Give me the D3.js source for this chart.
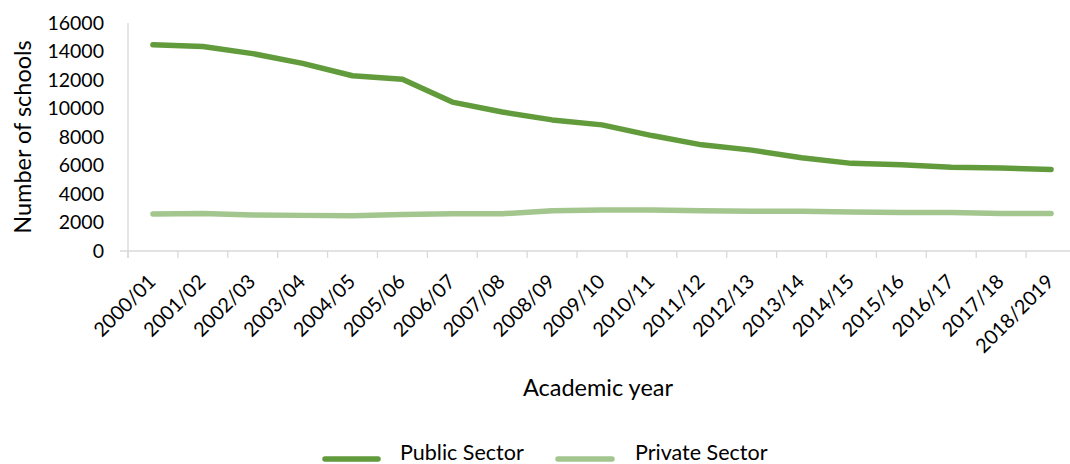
<!DOCTYPE html>
<html>
<head>
<meta charset="utf-8">
<script src="https://cdn.jsdelivr.net/npm/d3@7/dist/d3.min.js"></script>
<style>
  html, body { margin: 0; padding: 0; background: #fff; overflow: hidden; }
  svg { display: block; font-family: Lato, "Open Sans", sans-serif; }
</style>
</head>
<body>
<svg id="chart" width="1070" height="464"></svg>
<script>
// Academic years on the horizontal axis
const years = [
  "2000/01", "2001/02", "2002/03", "2003/04", "2004/05", "2005/06", "2006/07",
  "2007/08", "2008/09", "2009/10", "2010/11", "2011/12", "2012/13", "2013/14",
  "2014/15", "2015/16", "2016/17", "2017/18", "2018/2019"
];

// Number of schools per sector
const publicSector = [
  14480, 14350, 13850, 13170, 12300, 12060, 10450, 9750, 9200, 8850,
  8100, 7450, 7080, 6550, 6150, 6050, 5880, 5820, 5720
];
const privateSector = [
  2600, 2640, 2530, 2500, 2480, 2560, 2610, 2610, 2830, 2870,
  2870, 2830, 2790, 2790, 2740, 2700, 2700, 2640, 2640
];

const yTicks = [0, 2000, 4000, 6000, 8000, 10000, 12000, 14000, 16000];

const seriesNames = ["Public Sector", "Private Sector"];
const seriesColors = ["#629b3c", "#a3c68f"];

const svg = d3.select("#chart");

const plotLeft = 128, plotRight = 1076, plotTop = 23, plotBottom = 251;

const x = d3.scaleBand().domain(years).range([plotLeft, plotRight]).padding(0);
const y = d3.scaleLinear().domain([0, 16000]).range([plotBottom, plotTop]);

const axisColor = "#d9d9d9";

// y axis: labels only, with a plain line
svg.append("line")
  .attr("x1", plotLeft).attr("x2", plotLeft)
  .attr("y1", y(16000)).attr("y2", plotBottom + 7)
  .attr("stroke", axisColor).attr("stroke-width", 1.3);

const yAxis = d3.axisLeft(y).tickValues(yTicks).tickSize(0).tickPadding(24)
  .tickFormat(d3.format("d"));
const yg = svg.append("g").attr("transform", `translate(${plotLeft},0)`).call(yAxis);
yg.select(".domain").remove();
yg.selectAll("text")
  .attr("font-size", 19.5).attr("fill", "#000")
  .attr("font-family", "Lato, sans-serif");

// x axis: baseline plus tick marks at band edges
svg.append("line")
  .attr("x1", plotLeft - 8).attr("x2", plotRight)
  .attr("y1", plotBottom).attr("y2", plotBottom)
  .attr("stroke", axisColor).attr("stroke-width", 1.3);

const edges = years.map(d => x(d)).concat([x(years[years.length - 1]) + x.bandwidth()]);
svg.append("g").selectAll("line").data(edges).join("line")
  .attr("x1", d => d).attr("x2", d => d)
  .attr("y1", plotBottom).attr("y2", plotBottom + 7)
  .attr("stroke", axisColor).attr("stroke-width", 1.3);

// rotated category labels
svg.append("g").selectAll("text").data(years).join("text")
  .attr("transform", d => `translate(${x(d) + x.bandwidth() / 2 + 4},${plotBottom + 32}) rotate(-45)`)
  .attr("text-anchor", "end")
  .attr("font-size", 19.8)
  .attr("fill", "#000")
  .text(d => d);

// axis titles
svg.append("text")
  .attr("transform", `translate(31,137) rotate(-90)`)
  .attr("text-anchor", "middle")
  .attr("font-size", 23.5).attr("fill", "#000")
  .text("Number of schools");

svg.append("text")
  .attr("x", 598).attr("y", 396)
  .attr("text-anchor", "middle")
  .attr("font-size", 23.5).attr("fill", "#000")
  .text("Academic year");

// series lines
const line = d3.line()
  .x((d, i) => x(years[i]) + x.bandwidth() / 2)
  .y(d => y(d));

[publicSector, privateSector].forEach((vals, k) => {
  svg.append("path")
    .datum(vals)
    .attr("d", line)
    .attr("fill", "none")
    .attr("stroke", seriesColors[k])
    .attr("stroke-width", 5.5)
    .attr("stroke-linejoin", "round")
    .attr("stroke-linecap", "round");
});

// legend
const legendItems = [
  { x1: 325, x2: 378, tx: 400 },
  { x1: 558, x2: 612, tx: 635 }
];
const lg = svg.append("g");
legendItems.forEach((it, k) => {
  lg.append("line")
    .attr("x1", it.x1).attr("x2", it.x2)
    .attr("y1", 459).attr("y2", 459)
    .attr("stroke", seriesColors[k])
    .attr("stroke-width", 5.5)
    .attr("stroke-linecap", "round");
  lg.append("text")
    .attr("x", it.tx).attr("y", 460)
    .attr("font-size", 21.5).attr("fill", "#000")
    .text(seriesNames[k]);
});
</script>
</body>
</html>
